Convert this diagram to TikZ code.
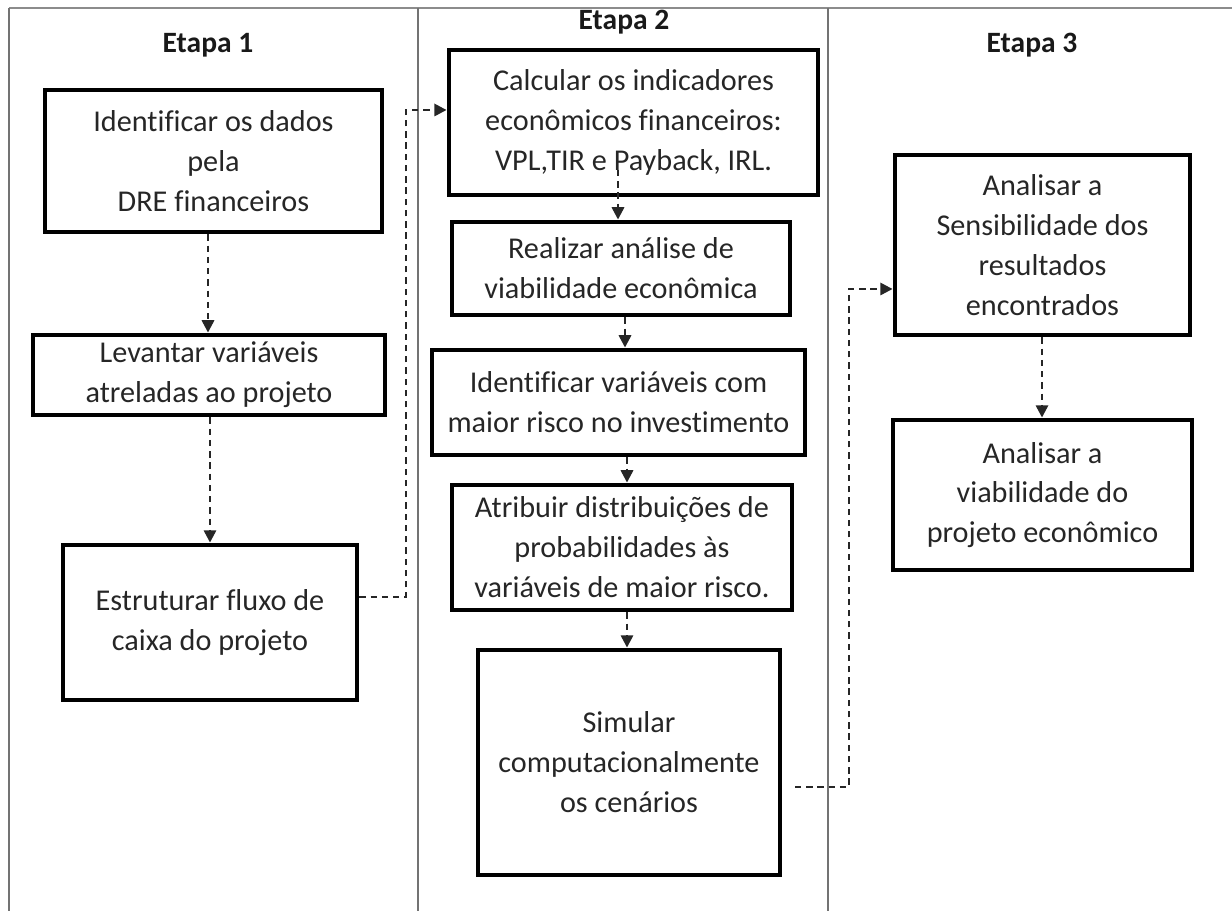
\documentclass[tikz,border=0pt]{standalone}
\usepackage{fontspec}
\setmainfont{Carlito}[Ligatures={TeX,NoCommon}]
\usetikzlibrary{arrows.meta}
\begin{document}
\begin{tikzpicture}[x=0.02cm,y=-0.02cm,
  stepbox/.style={draw=black, line width=2.8pt, align=center, inner sep=0pt,
    font=\fontsize{17.2}{22.7}\selectfont, text=black!85},
  stagetitle/.style={font=\bfseries\fontsize{16.8}{20}\selectfont, text=black!90},
  conn/.style={draw=black!85, line width=1.35pt, dash pattern=on 3.6pt off 2.8pt,
    -{Triangle[length=7pt,width=7pt]}},
  frameline/.style={draw=black!55, line width=1.1pt}]

\useasboundingbox (0,0) rectangle (1232,911);

% lane frame
\draw[frameline, draw=black!45, line width=1.5pt] (9,8) -- (1232,8);
\draw[frameline] (9,911) -- (9,8);
\draw[frameline] (418,8) -- (418,911);
\draw[frameline] (828,8) -- (828,911);

% stage titles
\node[stagetitle] (t1) at (208,45) {Etapa 1};
\node[stagetitle] (t2) at (624,22) {Etapa 2};
\node[stagetitle] (t3) at (1032,45) {Etapa 3};

% stage 1
\node[stepbox, minimum width=6.74cm, minimum height=2.84cm] (A) at (213.5,161)
  {Identificar os dados\\pela\\DRE financeiros};
\node[stepbox, minimum width=7.04cm, minimum height=1.6cm] (B) at (209,375)
  {Levantar variáveis\\atreladas ao projeto};
\node[stepbox, minimum width=5.88cm, minimum height=3.1cm] (C) at (210,622.5)
  {Estruturar fluxo de\\caixa do projeto};

% stage 2
\node[stepbox, minimum width=7.38cm, minimum height=2.9cm] (D) at (633.5,122.5)
  {Calcular os indicadores\\econômicos financeiros:\\VPL,TIR e Payback, IRL.};
\node[stepbox, minimum width=6.76cm, minimum height=1.86cm] (E) at (621,268.5)
  {Realizar análise de\\viabilidade econômica};
\node[stepbox, minimum width=7.46cm, minimum height=2.1cm] (F) at (618.5,402.5)
  {Identificar variáveis com\\maior risco no investimento};
\node[stepbox, minimum width=6.8cm, minimum height=2.5cm] (G) at (622,547.5)
  {Atribuir distribuições de\\probabilidades às\\variáveis de maior risco.};
\node[stepbox, minimum width=6.04cm, minimum height=4.5cm] (H) at (629,762.5)
  {Simular\\computacionalmente\\os cenários};

% stage 3
\node[stepbox, minimum width=5.9cm, minimum height=3.6cm] (I) at (1042.5,245)
  {Analisar a\\Sensibilidade dos\\resultados\\encontrados};
\node[stepbox, minimum width=5.98cm, minimum height=3.0cm] (J) at (1042.5,495)
  {Analisar a\\viabilidade do\\projeto econômico};

% helper points for the connectors
\coordinate (xa) at (208,0);
\coordinate (xb) at (210,0);
\coordinate (xd) at (618,170);
\coordinate (xe) at (625,0);
\coordinate (xf) at (627,0);
\coordinate (xj) at (1042,0);
\coordinate (hs) at (795,787);

% connectors
\draw[conn] (A.south -| xa) -- (B.north -| xa);
\draw[conn] (B.south -| xb) -- (C.north -| xb);
\draw[conn] (C.east |- 0,597) -- (406,597) -- (406,110) -- (D.west |- 0,110);
\draw[conn] (xd) -- (E.north -| xd);
\draw[conn] (E.south -| xe) -- (F.north -| xe);
\draw[conn] (F.south -| xf) -- (G.north -| xf);
\draw[conn] (G.south -| xf) -- (H.north -| xf);
\draw[conn] (hs) -- (849,787) -- (849,289) -- (I.west |- 0,289);
\draw[conn] (I.south -| xj) -- (J.north -| xj);

\end{tikzpicture}
\end{document}
